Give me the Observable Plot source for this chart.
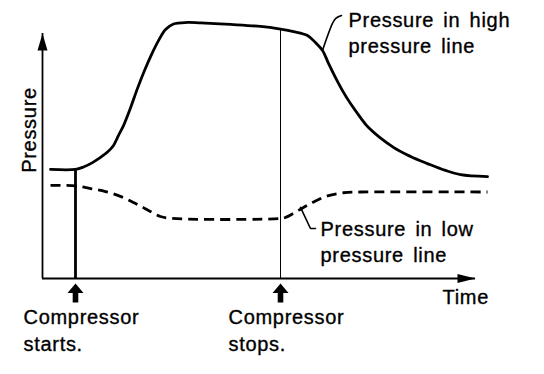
<!DOCTYPE html>
<html>
<head>
<meta charset="utf-8">
<script src="https://cdn.jsdelivr.net/npm/d3@7"></script>
<script src="https://cdn.jsdelivr.net/npm/@observablehq/plot@0.6"></script>
<style>
  html, body { margin: 0; padding: 0; background: #fff; }
</style>
</head>
<body>
<div id="chart"></div>
<script>
// ---- Data (time and pressure in arbitrary units, 0–100 along each axis) ----
const highTime = [1.85, 7.62, 9.47, 11.55, 13.39, 15.01, 16.4, 17.55, 18.71, 20.32, 21.94, 23.56, 25.17, 26.79, 28.41, 30.25, 33.49, 36.49, 43.42, 50.35, 54.97, 57.97, 61.2, 63.05, 64.67, 66.05, 67.67, 69.28, 71.13, 73.44, 75.29, 81.06, 84.99, 88.91, 93.07, 96.54, 102.77];
const highPressure = [44.5, 44.5, 45.5, 47.3, 49.4, 51.6, 54.3, 58.4, 62.4, 69.6, 77.6, 84.9, 91.4, 97.1, 101.6, 103.9, 104.5, 104.3, 103.7, 102.9, 101.8, 100.8, 99.2, 96.3, 93.1, 87.8, 82.0, 76.7, 71.4, 65.7, 61.6, 53.5, 49.8, 46.9, 44.1, 42.4, 41.6];

const lowTime = [1.85, 7.62, 11.09, 14.55, 18.01, 21.48, 24.48, 27.25, 30.02, 54.97, 56.12, 59.12, 62.36, 65.82, 69.52, 73.44, 102.77];
const lowPressure = [38.0, 37.8, 36.7, 35.5, 33.5, 30.6, 27.8, 25.3, 24.5, 24.5, 24.9, 27.8, 31.0, 33.7, 35.0, 35.3, 35.3];

const eventLabels = ["Compressor\nstarts.", "Compressor\nstops."];
const eventTimes = [7.62, 54.97];
const eventPressures = [44.5, 101.8];

const highLabel = "Pressure in high\npressure line";
const highLeaderTime = [64.67, 66.97, 67.67, 69.05];
const highLeaderPressure = [93.1, 104.1, 106.1, 107.3];

const lowLabel = "Pressure in low\npressure line";
const lowLeaderTime = [59.58, 61.89, 63.05];
const lowLeaderPressure = [29.0, 20.4, 20.4];

const xLabel = "Time";
const yLabel = "Pressure";

// ---- Tables built from the arrays ----
const high = highTime.map((t, i) => ({t, p: highPressure[i]}));
const low = lowTime.map((t, i) => ({t, p: lowPressure[i]}));
const highLeader = highLeaderTime.map((t, i) => ({t, p: highLeaderPressure[i]}));
const lowLeader = lowLeaderTime.map((t, i) => ({t, p: lowLeaderPressure[i]}));
const events = eventLabels.map((label, i) => ({label, t: eventTimes[i], p: eventPressures[i]}));

// ---- Custom arrow symbols ----
const upBlockArrow = {draw(c) {
  c.moveTo(0, 0); c.lineTo(8, 9.5); c.lineTo(2.8, 9.5); c.lineTo(2.8, 19);
  c.lineTo(-2.8, 19); c.lineTo(-2.8, 9.5); c.lineTo(-8, 9.5); c.closePath();
}};
const yAxisHead = {draw(c) {
  c.moveTo(0, 0); c.lineTo(5, 17); c.lineTo(-5, 17); c.closePath();
}};
const xAxisHead = {draw(c) {
  c.moveTo(0, 0); c.lineTo(-18, 4.5); c.lineTo(-18, -4.5); c.closePath();
}};

const font = "'Liberation Sans', Arial, Helvetica, sans-serif";
const textStyle = {fontSize: 20, fill: "#000", stroke: "#000", strokeWidth: 0.35};

const chart = Plot.plot({
  width: 544,
  height: 374,
  marginLeft: 42,
  marginRight: 69,
  marginTop: 33,
  marginBottom: 96,
  x: {domain: [0, 100], axis: null},
  y: {domain: [0, 100], axis: null},
  style: {background: "#fff", color: "#000", fontFamily: font, letterSpacing: "0.7px", wordSpacing: "3px", overflow: "visible"},
  marks: [
    // axes
    Plot.ruleX([0], {stroke: "#000", strokeWidth: 1.8}),
    Plot.ruleY([0], {stroke: "#000", strokeWidth: 1.8}),
    Plot.dot([0], {frameAnchor: "top-left", symbol: yAxisHead, fill: "#000", stroke: "none"}),
    Plot.dot([0], {frameAnchor: "bottom-right", symbol: xAxisHead, fill: "#000", stroke: "none"}),
    Plot.text([yLabel], {text: d => d, frameAnchor: "left", rotate: -90, textAnchor: "middle", lineAnchor: "bottom", dx: -7, dy: -26, ...textStyle}),
    Plot.text([xLabel], {text: d => d, frameAnchor: "bottom-right", textAnchor: "start", lineAnchor: "bottom", dx: -33, dy: 25, ...textStyle}),

    // event verticals
    Plot.ruleX(events.slice(0, 1), {x: "t", y1: () => 0, y2: "p", stroke: "#000", strokeWidth: 2.8}),
    Plot.ruleX(events.slice(1, 2), {x: "t", y1: () => 0, y2: "p", stroke: "#000", strokeWidth: 1}),

    // pressure curves
    Plot.line(high, {x: "t", y: "p", curve: "catmull-rom", stroke: "#000", strokeWidth: 2.8}),
    Plot.line(low, {x: "t", y: "p", curve: "catmull-rom", stroke: "#000", strokeWidth: 2.8, strokeDasharray: "10,6", strokeLinecap: "butt"}),

    // event arrows and labels
    Plot.dot(events, {x: "t", frameAnchor: "bottom", dy: 5, symbol: upBlockArrow, fill: "#000", stroke: "none"}),
    Plot.text(events, {x: "t", text: "label", frameAnchor: "bottom", textAnchor: "start", lineAnchor: "bottom", lineHeight: 1.35, dx: -52, dy: 72, ...textStyle}),

    // annotations
    Plot.line(highLeader, {x: "t", y: "p", curve: "catmull-rom", stroke: "#000", strokeWidth: 1.6}),
    Plot.text(highLeader.slice(-1), {x: "t", y: "p", text: () => highLabel, textAnchor: "start", lineAnchor: "bottom", lineHeight: 1.3, dx: 7, dy: 37, ...textStyle}),
    Plot.line(lowLeader, {x: "t", y: "p", stroke: "#000", strokeWidth: 1.6}),
    Plot.text(lowLeader.slice(-1), {x: "t", y: "p", text: () => lowLabel, textAnchor: "start", lineAnchor: "bottom", lineHeight: 1.3, dx: 5, dy: 33, ...textStyle})
  ]
});

document.getElementById("chart").appendChild(chart);
</script>
</body>
</html>
